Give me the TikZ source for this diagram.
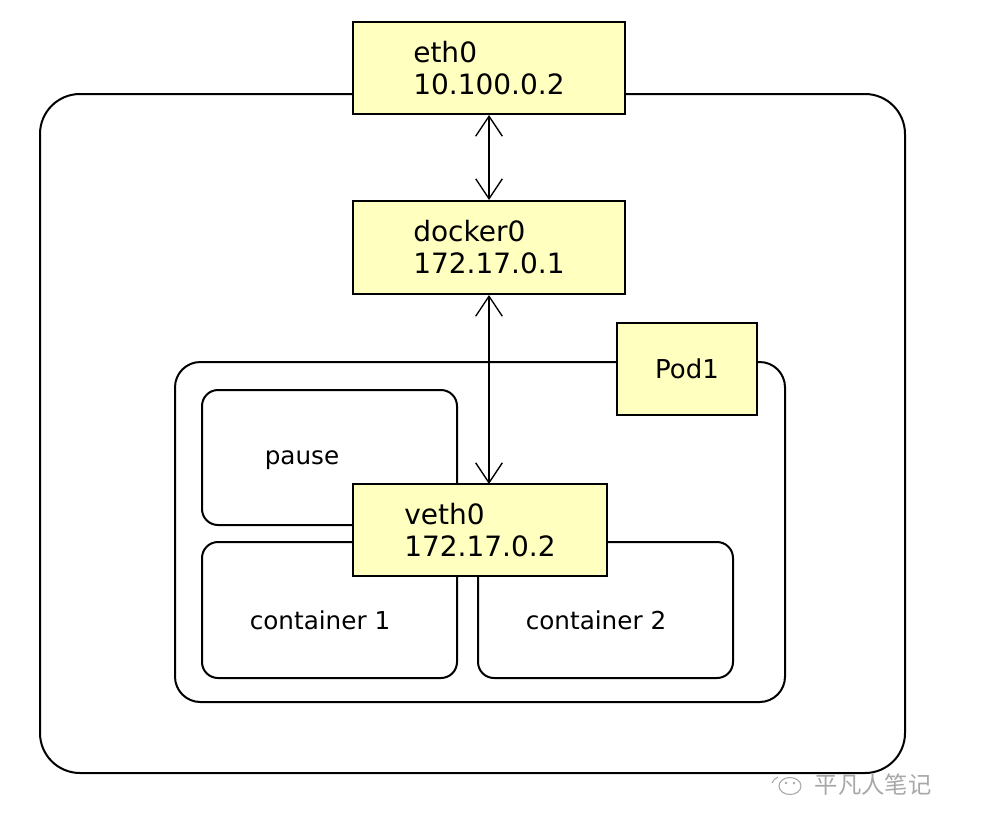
\documentclass[tikz,border=0pt]{standalone}
\usepackage{fontspec}
\setmainfont{DejaVu Sans}
\newfontfamily\cjk{Noto Sans CJK SC}
\usetikzlibrary{arrows.meta}
\definecolor{boxyellow}{HTML}{FFFFC0}
\definecolor{wmgray}{HTML}{A8A8A8}
\begin{document}
\begin{tikzpicture}[x=0.75pt,y=-0.75pt,
  frameline/.style={draw, line width=1.5pt},
  ybox/.style={draw, fill=boxyellow, line width=1.5pt, align=left, inner sep=0pt,
    font=\fontsize{21}{24}\selectfont},
  cbox/.style={draw, fill=white, line width=1.5pt, rounded corners=12pt, inner sep=0pt,
    minimum width=191.25pt, minimum height=102pt},
  clabel/.style={font=\fontsize{18.5}{22}\selectfont, inner sep=0pt},
  arr/.style={line width=1pt, {Straight Barb[length=15pt,width=20pt]}-{Straight Barb[length=15pt,width=20pt]}}]
\useasboundingbox (0,0) rectangle (989,815);
% outer host frame
\draw[frameline, rounded corners=30pt] (40,94) rectangle (905,773);
% pod frame
\draw[frameline, rounded corners=19pt] (175,362) rectangle (785,702);
% containers
\node[cbox, minimum height=101.25pt] (pause) at (329.5,457.5) {};
\node[clabel] (pauselbl) at (302,460) {pause};
\node[cbox] (c1) at (329.5,610) {};
\node[clabel] (c1lbl) at (320,620) {container 1};
\node[cbox] (c2) at (605.5,610) {};
\node[clabel] (c2lbl) at (596,620) {container 2};
% yellow boxes
\node[ybox, minimum width=204pt, minimum height=69pt] (eth0) at (489,68) {eth0\\10.100.0.2};
\node[ybox, minimum width=204pt, minimum height=69.75pt] (docker0) at (489,247.5) {docker0\\172.17.0.1};
\node[ybox, minimum width=105pt, minimum height=69pt, font=\fontsize{19.5}{22}\selectfont] (pod1) at (687,369) {Pod1};
% arrows
\draw[arr] (eth0.south) -- (docker0.north);
\coordinate (vtop) at (489,484);
\draw[arr] (docker0.south) -- (vtop);
\node[ybox, minimum width=190.5pt, minimum height=69pt] (veth0) at (480,530) {veth0\\172.17.0.2};
% watermark
\fill[white] (762,775) rectangle (940,798);
\node[inner sep=0pt, font=\cjk\fontsize{17.5}{20}\selectfont, text=wmgray] (wm) at (873,785) {平凡人笔记};
\draw[wmgray, line width=0.8pt] (790,786) ellipse [x radius=11, y radius=8.5];
\fill[wmgray] (786,783) circle (1.3) (794,783) circle (1.3);
\draw[wmgray, line width=0.8pt] (772,783) arc[start angle=200, end angle=250, radius=10];
\end{tikzpicture}
\end{document}
